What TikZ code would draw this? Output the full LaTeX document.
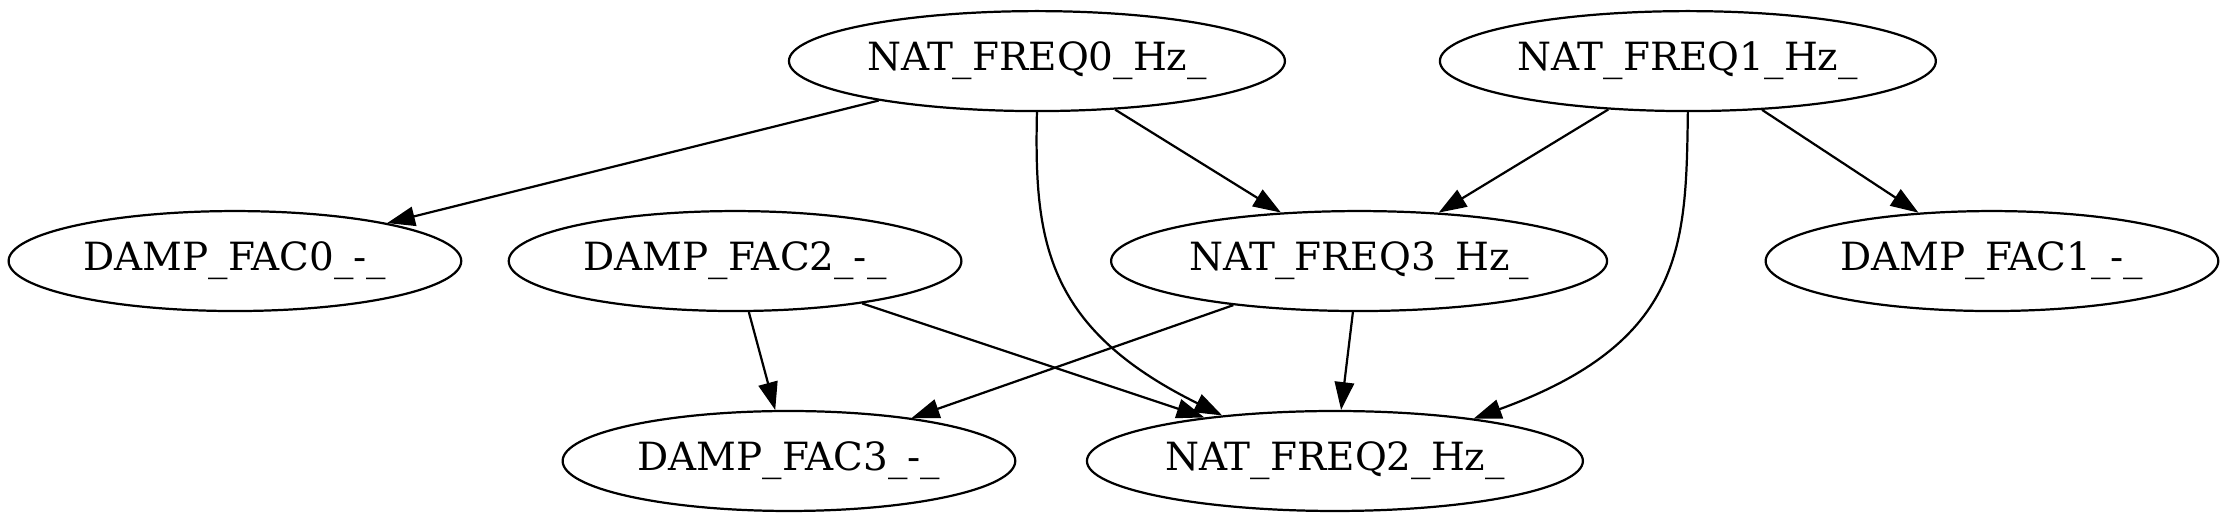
\documentclass[tikz,border=0pt]{standalone}
\usepackage{fontspec}
\setmainfont{DejaVu Serif}
\usetikzlibrary{arrows.meta,shapes.geometric}
\tikzset{
    %Define standard arrow tip
    >={Triangle[length=10pt,width=7pt]},
    %Define style for nodes
    freq/.style={
           ellipse,
           draw=black, line width=0.8pt,
           inner sep=0pt,
           minimum width=178.6pt,
           minimum height=36pt,
           font=\fontsize{14}{16}\selectfont,
           text centered},
    damp/.style={
           freq,
           minimum width=163pt},
    % Define arrow style
    pil/.style={
           ->,
           line width=0.8pt}
}

\begin{document}
\begin{tikzpicture}[x=1pt,y=1pt]
\useasboundingbox (0,0) rectangle (800.5,188);
 %nodes
\node[freq](nf0) at (373.4,166){NAT\_FREQ0\_Hz\_};
\node[freq](nf1) at (607.8,166){NAT\_FREQ1\_Hz\_};
\node[damp](df0) at (84.6,94){DAMP\_FAC0\_-\_};
\node[damp](df2) at (264.7,94){DAMP\_FAC2\_-\_};
\node[freq](nf3) at (489.4,94){NAT\_FREQ3\_Hz\_};
\node[damp](df1) at (717.3,94){DAMP\_FAC1\_-\_};
\node[damp](df3) at (284.1,22){DAMP\_FAC3\_-\_};
\node[freq](nf2) at (480.7,22){NAT\_FREQ2\_Hz\_};
 %edges
\path[pil]
    (nf0) edge (df0) edge (nf3)
    (nf1) edge (nf3) edge (df1)
    (df2) edge (df3) edge (nf2)
    (nf3) edge (df3) edge (nf2);
\draw[pil] (nf0.south) .. controls (372.4,102) and (376,70) .. (nf2.158);
\draw[pil] (nf1.south) .. controls (607.1,100) and (607,65) .. (nf2.17);
\end{tikzpicture}
\end{document}
